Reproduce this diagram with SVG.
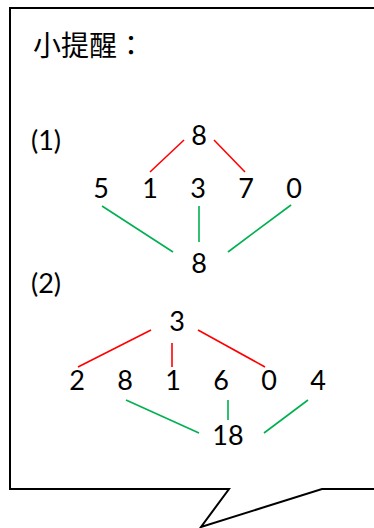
<svg xmlns="http://www.w3.org/2000/svg" width="374" height="528" viewBox="0 0 374 528">
<style>
.n{font-family:Lato,"Open Sans","Liberation Sans",sans-serif;font-size:27px;fill:#000;text-anchor:middle}
.lbl{font-family:Lato,"Open Sans","Liberation Sans",sans-serif;font-size:27px;fill:#000}
.r{stroke:#FF0000;stroke-width:1.6;fill:none}
.g{stroke:#00B050;stroke-width:1.6;fill:none}
</style>
<g id="callout">
<path d="M10,8 L380,8 L380,489 L322,489 L201,527 L229,489 L10,489 Z" fill="#fff" stroke="#000" stroke-width="2"/>
</g>
<g id="title"><text x="33" y="56" font-family="'Noto Sans CJK TC','Noto Sans CJK SC',sans-serif" font-size="28">小提醒：</text></g>
<g id="label1"><text class="lbl" x="31" y="150">(1)</text></g>
<g id="label2"><text class="lbl" x="31" y="293">(2)</text></g>
<g id="p1-top"><text class="n" x="199" y="145">8</text></g>
<g id="p1-5"><text class="n" x="101" y="198">5</text></g>
<g id="p1-1"><text class="n" x="150" y="198">1</text></g>
<g id="p1-3"><text class="n" x="198" y="198">3</text></g>
<g id="p1-7"><text class="n" x="246" y="198">7</text></g>
<g id="p1-0"><text class="n" x="294" y="198">0</text></g>
<g id="p1-bottom"><text class="n" x="199" y="273">8</text></g>
<g id="p2-top"><text class="n" x="177" y="331">3</text></g>
<g id="p2-2"><text class="n" x="77" y="390">2</text></g>
<g id="p2-8"><text class="n" x="125" y="390">8</text></g>
<g id="p2-1"><text class="n" x="173" y="390">1</text></g>
<g id="p2-6"><text class="n" x="221" y="390">6</text></g>
<g id="p2-0"><text class="n" x="269" y="390">0</text></g>
<g id="p2-4"><text class="n" x="318" y="390">4</text></g>
<g id="p2-bottom"><text class="n" x="228" y="445">18</text></g>
<g id="connectors">
<line class="r" x1="184" y1="140" x2="150" y2="172"/>
<line class="r" x1="214" y1="140" x2="245" y2="172"/>
<line class="g" x1="102" y1="206" x2="173" y2="252"/>
<line class="g" x1="199" y1="206" x2="199" y2="242"/>
<line class="g" x1="291" y1="205" x2="228" y2="252"/>
<line class="r" x1="151" y1="330" x2="78" y2="367"/>
<line class="r" x1="172" y1="343" x2="172" y2="367"/>
<line class="r" x1="198" y1="330" x2="265" y2="367"/>
<line class="g" x1="126" y1="400" x2="199" y2="433"/>
<line class="g" x1="228" y1="400" x2="228" y2="420"/>
<line class="g" x1="308" y1="400" x2="264" y2="433"/>
</g>
</svg>
